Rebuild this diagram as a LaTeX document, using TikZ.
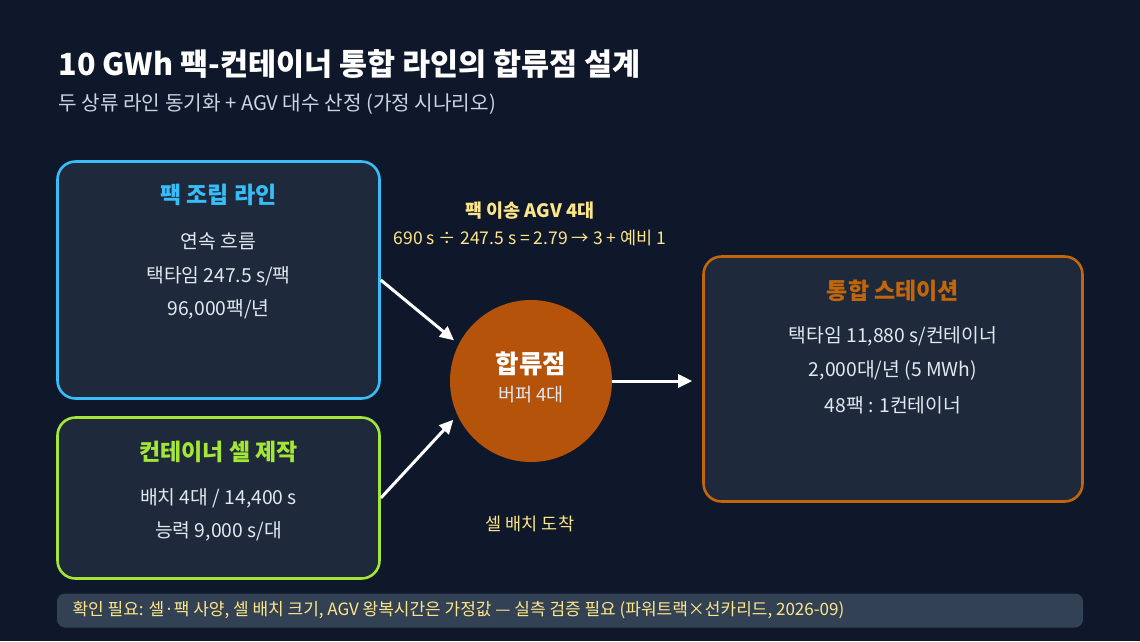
\documentclass[tikz,border=0pt]{standalone}
\usepackage{fontspec}
\setmainfont{Noto Sans CJK KR}
\usetikzlibrary{arrows.meta,positioning}
\definecolor{bg}{HTML}{0F172A}
\definecolor{boxfill}{HTML}{1E293B}
\definecolor{skyc}{HTML}{38BDF8}
\definecolor{limec}{HTML}{A3E635}
\definecolor{amberc}{HTML}{B45309}
\definecolor{orangec}{HTML}{C2660A}
\definecolor{yellowc}{HTML}{FDE68A}
\definecolor{bodyc}{HTML}{E2E8F0}
\definecolor{subc}{HTML}{CBD5E1}
\definecolor{footc}{HTML}{334155}
\tikzset{
  panel/.style={draw, line width=2.6pt, fill=boxfill, rounded corners=18pt, inner sep=0pt},
  boxtitle/.style={font=\fontsize{23}{27}\selectfont\bfseries, anchor=center},
  bodytxt/.style={text=bodyc, font=\fontsize{19.3}{23}\selectfont, anchor=center},
  flow/.style={draw=white, line width=3pt, -{Triangle[length=14pt,width=13pt]}},
  note/.style={text=yellowc, anchor=center},
}
\begin{document}
\begin{tikzpicture}[x=1pt,y=-1pt]
\useasboundingbox (0,0) rectangle (1140,641);
\fill[bg] (0,0) rectangle (1140,641);

% titles
\node[anchor=west, text=white, font=\fontsize{30.5}{34}\selectfont\bfseries] (title) at (55,64) {10 GWh 팩-컨테이너 통합 라인의 합류점 설계};
\node[anchor=west, text=subc, font=\fontsize{20.2}{23}\selectfont] (subtitle) at (55,104) {두 상류 라인 동기화 + AGV 대수 산정 (가정 시나리오)};

% box 1
\node[panel, draw=skyc, minimum width=322pt, minimum height=237pt] (pack) at (218.5,280) {};
\node[boxtitle, text=skyc] (packT) at (218.5,195) {팩 조립 라인};
\node[bodytxt] (pack1) at (218.5,241) {연속 흐름};
\node[bodytxt] (pack2) at (218.5,276) {택타임 247.5 s/팩};
\node[bodytxt] (pack3) at (218.5,309) {96,000팩/년};

% box 2
\node[panel, draw=limec, minimum width=322pt, minimum height=161pt] (cell) at (218.5,498) {};
\node[boxtitle, text=limec] (cellT) at (218.5,452) {컨테이너 셀 제작};
\node[bodytxt] (cell1) at (218.5,498) {배치 4대 / 14,400 s};
\node[bodytxt] (cell2) at (218.5,531) {능력 9,000 s/대};

% merge circle
\node[circle, fill=amberc, minimum size=162pt, inner sep=0pt] (merge) at (531,381) {};
\node[text=white, font=\fontsize{25.5}{30}\selectfont\bfseries] (mergeT) at (531,364) {합류점};
\node[text=bodyc, font=\fontsize{18.5}{22}\selectfont] (mergeS) at (531,395) {버퍼 4대};

% box 3
\node[panel, draw=orangec, minimum width=379pt, minimum height=245pt] (station) at (893,379) {};
\node[boxtitle, text=orangec] (stationT) at (893,291) {통합 스테이션};
\node[bodytxt] (st1) at (893,336) {택타임 11,880 s/컨테이너};
\node[bodytxt] (st2) at (893,370) {2,000대/년 (5 MWh)};
\node[bodytxt] (st3) at (893,405) {48팩 : 1컨테이너};

% labels
\node[note, font=\fontsize{18.5}{22}\selectfont\bfseries] (agv) at (530,211) {팩 이송 AGV 4대};
\node[note, font=\fontsize{17.5}{21}\selectfont] (agvcalc) at (530,238) {690 s ÷ 247.5 s = 2.79 → 3 + 예비 1};
\node[note, font=\fontsize{17.5}{21}\selectfont] (arrive) at (530,524) {셀 배치 도착};

% arrows
\draw[flow, shorten >=6pt] (pack.east) -- (merge.153);
\draw[flow, shorten >=6pt] (cell.east) -- (merge.205);
\draw[flow, shorten >=10pt] (merge.east) -- (merge.east -| station.west);

% footer
\node[fill=footc, rounded corners=8pt, minimum width=1026pt, minimum height=34pt, inner sep=0pt] (foot) at (570,610.5) {};
\node[anchor=west, text=yellowc, font=\fontsize{17}{20}\selectfont] (footT) at (69,610) {확인 필요: 셀·팩 사양, 셀 배치 크기, AGV 왕복시간은 가정값 — 실측 검증 필요 (파워트랙×선카리드, 2026-09)};
\end{tikzpicture}
\end{document}
